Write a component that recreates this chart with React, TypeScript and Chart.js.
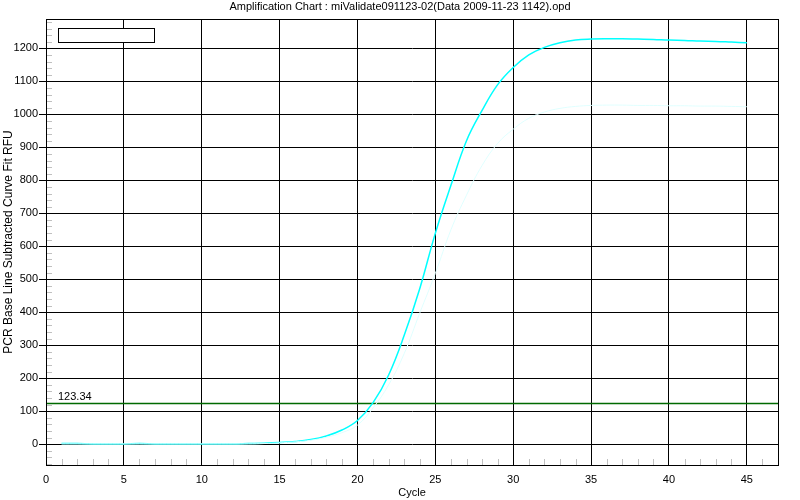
import React, { useEffect, useRef } from "react";
import { Chart, registerables } from "chart.js";

Chart.register(...registerables);

const chartTitle = "Amplification Chart : miValidate091123-02(Data 2009-11-23 1142).opd";
const xTitle = "Cycle";
const yTitle = "PCR Base Line Subtracted Curve Fit RFU";

const cycles = [
  1, 2, 3, 4, 5, 6, 7, 8, 9, 10, 11, 12, 13, 14, 15, 16, 17, 18, 19, 20, 21, 22, 23,
  24, 25, 26, 27, 28, 29, 30, 31, 32, 33, 34, 35, 36, 37, 38, 39, 40, 41, 42, 43, 44, 45,
];

const wellA = [
  2, 2, 1, 1, 1, 2, 1, 1, 1, 1, 1, 1, 2, 3, 5, 8, 14, 25, 43, 72, 126, 210, 330,
  472, 640, 785, 920, 1012, 1090, 1142, 1180, 1203, 1217, 1225, 1228, 1229, 1229, 1228, 1227, 1225, 1224, 1222, 1221, 1219, 1217,
];

const wellB = [
  1, 1, 1, 1, 1, 1, 1, 1, 1, 1, 1, 1, 1, 2, 4, 7, 12, 21, 35, 58, 110, 180, 275,
  398, 518, 650, 755, 845, 912, 955, 988, 1007, 1018, 1024, 1027, 1028, 1028, 1027, 1027, 1026, 1026, 1025, 1025, 1024, 1023,
];

const thresholdValue = 123.34;
const thresholdLabel = "123.34";
const xRange = [0, 47];
const yRange = [-63, 1289];

const FONT = "'Liberation Sans', Arial, sans-serif";

const decorPlugin = {
  id: "decor",
  afterDraw(chart: any) {
    const { ctx, chartArea, scales } = chart;
    const { left, right, top, bottom } = chartArea;
    const xs = scales.x;
    const ys = scales.y;
    ctx.save();
    // minor ticks
    ctx.strokeStyle = "#c0c0c0";
    ctx.lineWidth = 1;
    ctx.beginPath();
    for (let c = Math.ceil(xRange[0]); c <= xRange[1]; c++) {
      if (c % 5 === 0) continue;
      const px = Math.round(xs.getPixelForValue(c)) + 0.5;
      ctx.moveTo(px, bottom - 6);
      ctx.lineTo(px, bottom);
    }
    for (let v = -60; v <= yRange[1]; v += 20) {
      if (v % 100 === 0) continue;
      const py = Math.round(ys.getPixelForValue(v)) + 0.5;
      ctx.moveTo(left + 1, py);
      ctx.lineTo(left + 6, py);
    }
    ctx.stroke();
    // plot border
    ctx.strokeStyle = "#000";
    ctx.strokeRect(left + 0.5, top + 0.5, right - left, bottom - top);
    // empty legend box
    ctx.fillStyle = "#fff";
    ctx.fillRect(left + 12.5, top + 9.5, 96, 14);
    ctx.strokeRect(left + 12.5, top + 9.5, 96, 14);
    // threshold label
    ctx.fillStyle = "#000";
    ctx.font = `11px ${FONT}`;
    ctx.textAlign = "left";
    ctx.textBaseline = "alphabetic";
    ctx.fillText(thresholdLabel, left + 12, ys.getPixelForValue(thresholdValue) - 4);
    // chart title
    ctx.textAlign = "center";
    ctx.textBaseline = "middle";
    ctx.fillText(chartTitle, chart.width / 2, 7);
    ctx.restore();
  },
};

export default function App() {
  const ref = useRef<HTMLCanvasElement>(null);

  useEffect(() => {
    if (!ref.current) return;
    const chart = new Chart(ref.current, {
      type: "line",
      data: {
        datasets: [
          {
            label: "Well B",
            data: cycles.map((c, i) => ({ x: c, y: wellB[i] })),
            borderColor: "#e0ffff",
            borderWidth: 1,
            pointRadius: 0,
            tension: 0.4,
          },
          {
            label: "Well A",
            data: cycles.map((c, i) => ({ x: c, y: wellA[i] })),
            borderColor: "#00ffff",
            borderWidth: 1.5,
            pointRadius: 0,
            tension: 0.4,
          },
          {
            label: "Threshold",
            data: [
              { x: xRange[0], y: thresholdValue },
              { x: xRange[1], y: thresholdValue },
            ],
            borderColor: "#006a00",
            borderWidth: 1.5,
            pointRadius: 0,
          },
        ],
      },
      options: {
        responsive: false,
        animation: false,
        devicePixelRatio: 1,
        layout: { padding: { top: 19, right: 22, left: 0, bottom: 0 } },
        plugins: {
          legend: { display: false },
          tooltip: { enabled: false },
          title: { display: false },
        },
        scales: {
          x: {
            type: "linear",
            min: xRange[0],
            max: xRange[1],
            afterFit: (s: any) => {
              s.height = 35;
            },
            ticks: {
              stepSize: 5,
              includeBounds: false,
              padding: 8,
              color: "#000",
              maxRotation: 0,
              autoSkip: false,
              font: { family: FONT, size: 11 },
              callback: (v: any) => String(v),
            },
            grid: { color: "#000", drawTicks: false, lineWidth: 1 },
            border: { display: true, color: "#000" },
            title: {
              display: true,
              text: xTitle,
              color: "#000",
              font: { family: FONT, size: 11 },
              padding: { top: 0, bottom: 0 },
            },
          },
          y: {
            type: "linear",
            min: yRange[0],
            max: yRange[1],
            afterFit: (s: any) => {
              s.width = 46;
            },
            ticks: {
              stepSize: 100,
              includeBounds: false,
              padding: 1,
              color: "#000",
              font: { family: FONT, size: 11 },
              callback: (v: any) => String(v),
            },
            grid: { color: "#000", tickLength: 7, tickColor: "#000", lineWidth: 1 },
            border: { display: true, color: "#000" },
            title: {
              display: true,
              text: yTitle,
              color: "#000",
              font: { family: FONT, size: 12 },
              padding: { top: 1, bottom: 0 },
            },
          },
        },
      },
      plugins: [decorPlugin],
    });
    return () => chart.destroy();
  }, []);

  return (
    <div style={{ position: "fixed", left: 0, top: 0, width: 800, height: 500, background: "#fff" }}>
      <canvas ref={ref} width={800} height={500} />
    </div>
  );
}
